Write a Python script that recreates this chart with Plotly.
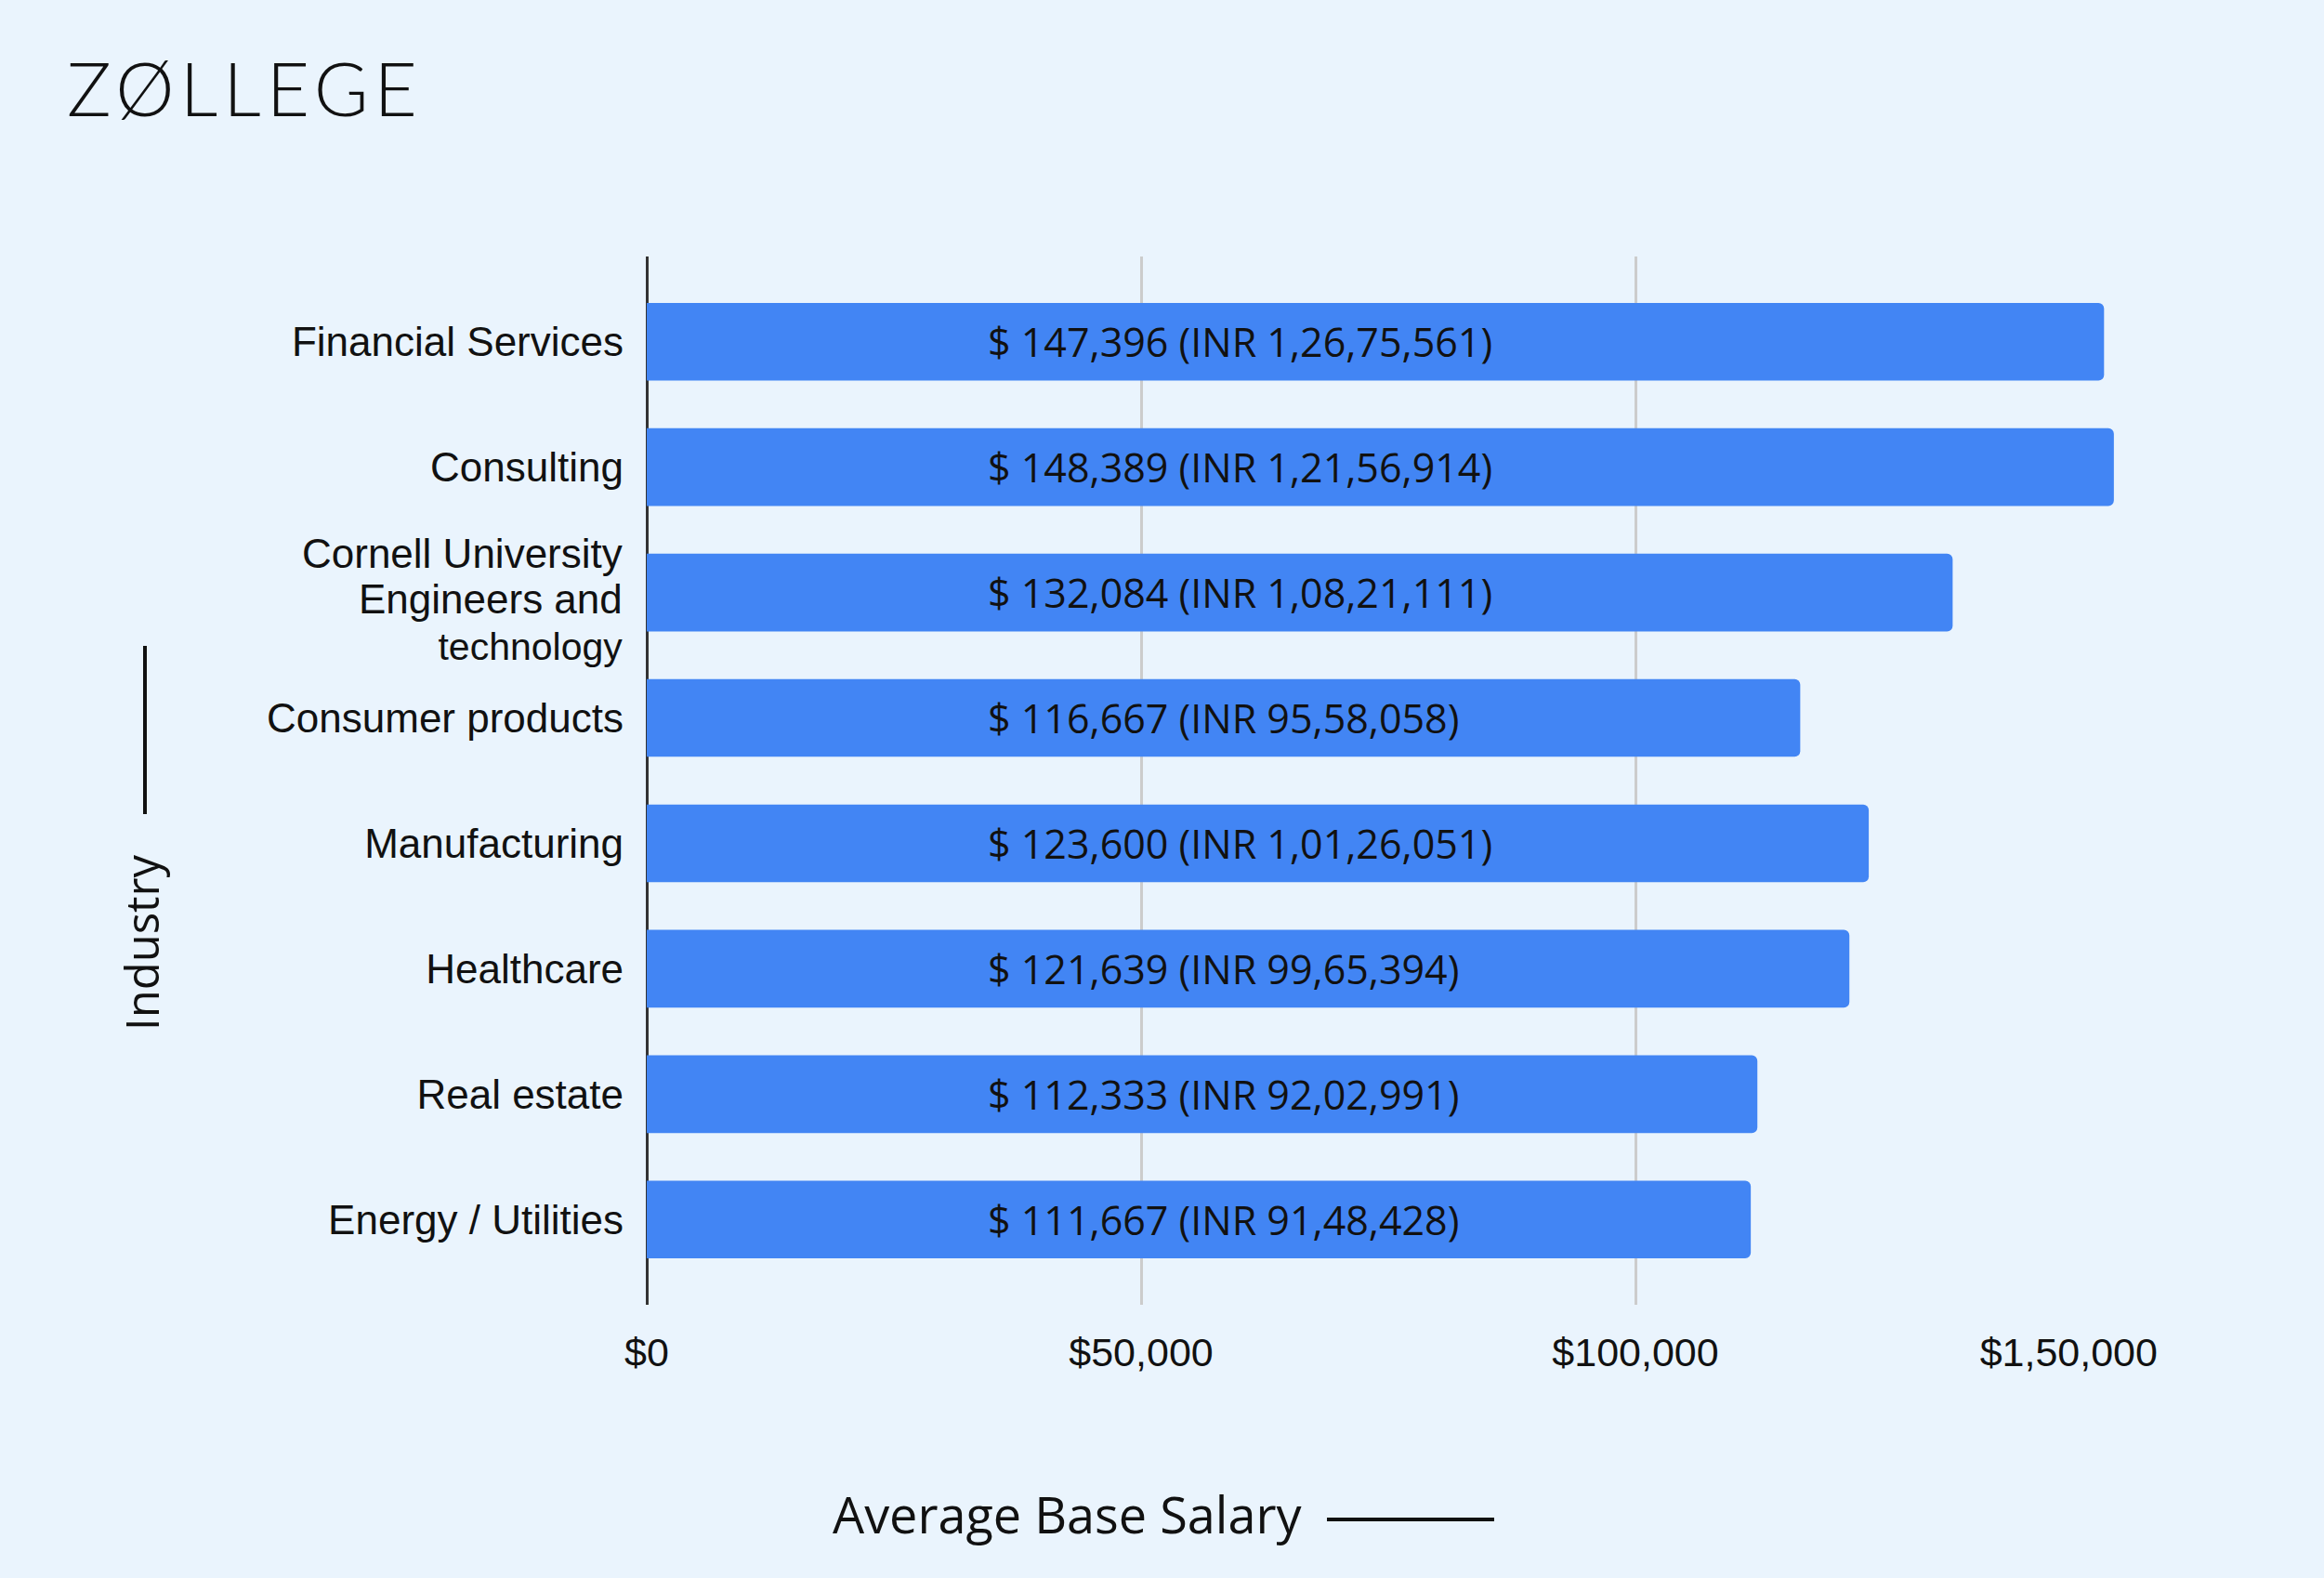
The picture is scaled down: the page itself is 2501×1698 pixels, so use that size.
import plotly.graph_objects as go

# ---- data ----
industries = [
    "Financial Services",
    "Consulting",
    "Cornell University Engineers and technology",
    "Consumer products",
    "Manufacturing",
    "Healthcare",
    "Real estate",
    "Energy / Utilities",
]
industry_labels = [
    "Financial Services",
    "Consulting",
    "<span style='font-size:44px'>Cornell University</span><br><span style='font-size:44px'>Engineers and</span><br><span style='font-size:41px'>technology</span>",
    "Consumer products",
    "Manufacturing",
    "Healthcare",
    "Real estate",
    "Energy / Utilities",
]
salary_usd = [147396, 148389, 132084, 116667, 123600, 121639, 112333, 111667]
salary_usd_text = ["147,396", "148,389", "132,084", "116,667", "123,600", "121,639", "112,333", "111,667"]
salary_inr_text = ["1,26,75,561", "1,21,56,914", "1,08,21,111", "95,58,058",
                   "1,01,26,051", "99,65,394", "92,02,991", "91,48,428"]
tick_vals = [0, 50000, 100000, 150000]
tick_text = ["$0", "$50,000", "$100,000", "$1,50,000"]

# ---- layout geometry (pixels) ----
W, H = 2501, 1698
L, R, T, B = 696, 209, 276, 294
pw = W - L - R
ph = H - T - B

def px(x):
    return (x - L) / pw

def py(y):
    return (H - B - y) / ph

BG = "#EAF4FD"
BLUE = "#4285F4"

# last tick label is kept inside the chart (shifted left) as in the original
tick_text_disp = list(tick_text)
tick_text_disp[-1] = tick_text_disp[-1] + "\u00a0" * 11

# multi-line labels are drawn as annotations (tighter line spacing)
ytick_text = [lab if "<br>" not in lab else "" for lab in industry_labels]

fig = go.Figure()
fig.add_trace(go.Bar(
    x=salary_usd,
    y=industries,
    orientation="h",
    marker=dict(color=BLUE, line=dict(width=0), cornerradius=6),
    hoverinfo="x+y",
))

annotations = []
for ind, u, inr in zip(industries, salary_usd_text, salary_inr_text):
    annotations.append(dict(
        x=px(1061), xref="paper", y=ind, yref="y",
        text=f"$ {u} (INR {inr})", showarrow=False, xanchor="left", yanchor="middle",
        font=dict(family="Open Sans", size=43, color="#111111"),
    ))
for ind, lab in zip(industries, industry_labels):
    if "<br>" in lab:
        annotations.append(dict(
            x=px(672), xref="paper", y=ind, yref="y", yshift=-7,
            text=lab, showarrow=False, xanchor="right", yanchor="middle", align="right",
            font=dict(family="Liberation Sans, Arial", size=38, color="#111111"),
        ))

# logo
annotations.append(dict(
    x=px(70), y=py(94), xref="paper", yref="paper", xanchor="left", yanchor="middle",
    text="<span style='letter-spacing:6px'>ZØLLEGE</span>", showarrow=False,
    font=dict(family="Lato", size=80, color="#111111", weight=300),
))
# y-axis title
annotations.append(dict(
    x=px(152), y=py(1014), xref="paper", yref="paper", xanchor="center", yanchor="middle",
    text="Industry", textangle=-90, showarrow=False,
    font=dict(family="Open Sans", size=49, color="#111111"),
))
# x-axis title
annotations.append(dict(
    x=px(1148), y=py(1629), xref="paper", yref="paper", xanchor="center", yanchor="middle",
    text="Average Base Salary", showarrow=False,
    font=dict(family="Open Sans", size=54, color="#111111"),
))

shapes = [
    dict(type="line", xref="paper", yref="paper", x0=px(156), x1=px(156), y0=py(695), y1=py(876),
         line=dict(color="#111111", width=4)),
    dict(type="line", xref="paper", yref="paper", x0=px(1428), x1=px(1608), y0=py(1635), y1=py(1635),
         line=dict(color="#111111", width=4)),
]

fig.update_layout(
    width=W, height=H,
    margin=dict(l=L, r=R, t=T, b=B),
    paper_bgcolor=BG, plot_bgcolor=BG,
    showlegend=False,
    bargap=0.38,
    annotations=annotations,
    shapes=shapes,
    font=dict(family="Liberation Sans, Arial", color="#111111"),
)
fig.update_xaxes(
    range=[0, 150000],
    tickvals=tick_vals, ticktext=tick_text_disp,
    showgrid=True, gridcolor="#CCCCCC", gridwidth=3,
    zeroline=True, zerolinecolor="#333333", zerolinewidth=3,
    showline=False, ticks="",
    tickfont=dict(family="Liberation Sans, Arial", size=43, color="#111111"),
    ticklabelstandoff=22,
)
fig.update_yaxes(
    categoryorder="array", categoryarray=industries,
    tickmode="array", tickvals=industries, ticktext=ytick_text,
    range=[7.68, -0.68],
    showgrid=False, zeroline=False, showline=False, ticks="",
    tickfont=dict(family="Liberation Sans, Arial", size=44, color="#111111"),
    ticklabelstandoff=24,
)

fig.write_html("out.html", config={"displayModeBar": False},
               post_script="document.body.style.margin='0';")
